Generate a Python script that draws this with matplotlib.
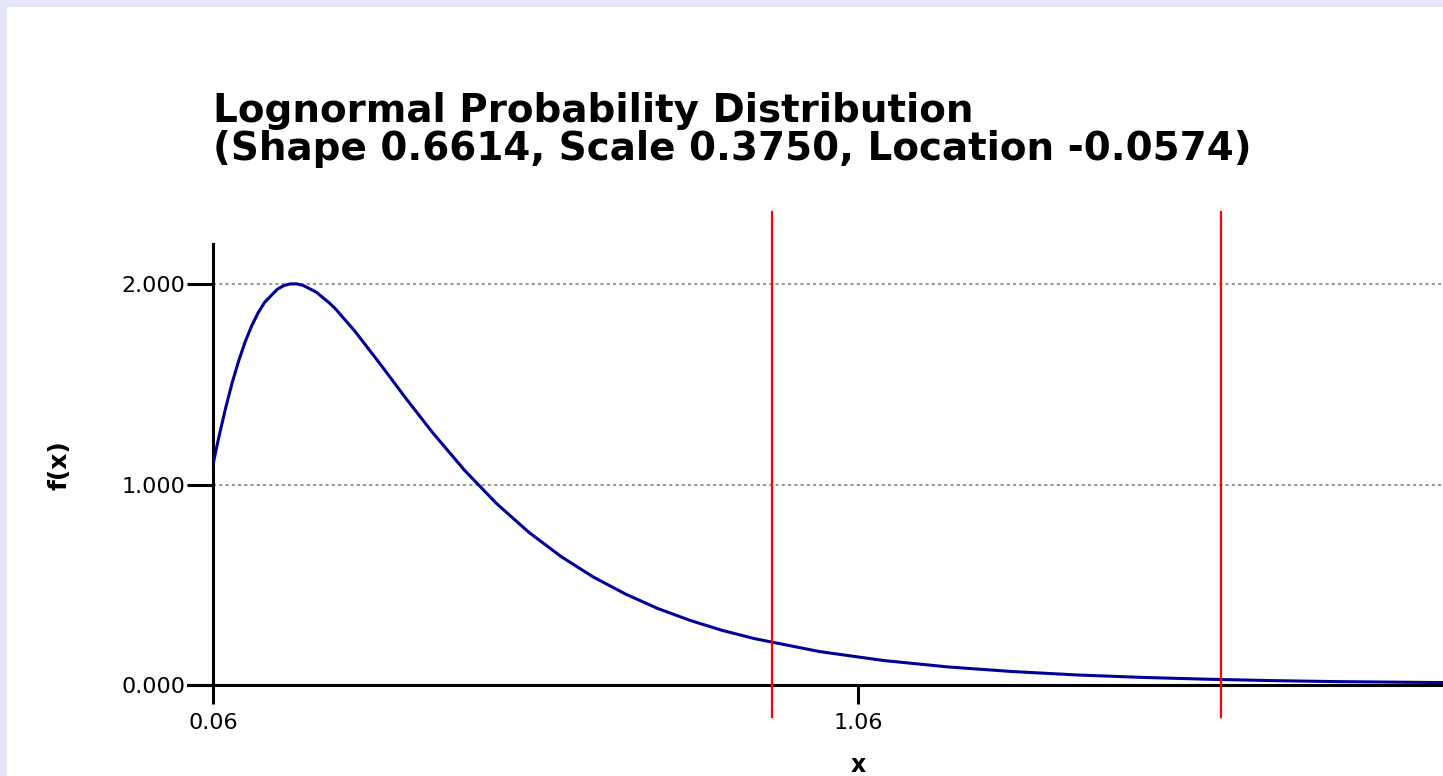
import matplotlib.pyplot as plt
from matplotlib.patches import Rectangle

# values
x_vals = [0.06, 0.065, 0.07, 0.08, 0.09, 0.10, 0.11, 0.12, 0.13, 0.14, 0.16, 0.17,
          0.18, 0.19, 0.20, 0.22, 0.24, 0.25, 0.28, 0.32, 0.36, 0.40, 0.45, 0.50,
          0.55, 0.60, 0.65, 0.70, 0.75, 0.80, 0.85, 0.90, 1.00, 1.10, 1.20, 1.30,
          1.40, 1.50, 1.60, 1.70, 1.80, 1.90, 1.97]
fx_vals = [1.100, 1.176, 1.250, 1.387, 1.511, 1.619, 1.713, 1.792, 1.857, 1.909, 1.975, 1.993,
           2.001, 2.001, 1.993, 1.960, 1.907, 1.876, 1.765, 1.598, 1.426, 1.261, 1.071, 0.904,
           0.761, 0.640, 0.538, 0.453, 0.381, 0.322, 0.272, 0.231, 0.167, 0.122, 0.090, 0.067,
           0.050, 0.038, 0.029, 0.022, 0.017, 0.014, 0.012]
red_lines = [0.927, 1.623]
x_ticks = [0.06, 1.06]
x_tick_labels = ["0.06", "1.06"]
y_ticks = [0.0, 1.0, 2.0]
y_tick_labels = ["0.000", "1.000", "2.000"]
title = "Lognormal Probability Distribution\n(Shape 0.6614, Scale 0.3750, Location -0.0574)"

W, H = 1443, 776
fig = plt.figure(figsize=(W / 100, H / 100), dpi=100, facecolor="#E6E6FA")
fig.patches.append(Rectangle((7 / W, 0), 1, 1 - 7 / H, transform=fig.transFigure,
                             facecolor="white", edgecolor="none", zorder=-5))

ax = fig.add_axes([213 / W, (H - 685) / H, 1 - 213 / W, (685 - 244) / H])
ax.set_facecolor("none")
ax.plot(x_vals, fx_vals, color="#000099", lw=2.2, zorder=3)
for xr in red_lines:
    ax.plot([xr, xr], [-0.16, 2.36], color="red", lw=1.6, clip_on=False, zorder=4)

ax.set_xlim(0.06, 1.967)
ax.set_ylim(0, 2.2)
ax.set_xticks(x_ticks)
ax.set_xticklabels(x_tick_labels)
ax.set_yticks(y_ticks)
ax.set_yticklabels(y_tick_labels)
ax.tick_params(axis="x", length=14, width=2.2, pad=6, labelsize=16)
ax.tick_params(axis="y", length=19, width=2.2, pad=1, labelsize=16)
for lab in ax.get_xticklabels() + ax.get_yticklabels():
    lab.set_family("DejaVu Sans")

ax.grid(axis="y", color="#999999", ls=(0, (1.5, 1.5)), lw=1.5)
for s in ["top", "right"]:
    ax.spines[s].set_visible(False)
for s in ["left", "bottom"]:
    ax.spines[s].set_linewidth(2.2)
ax.spines["bottom"].set_bounds(0.06 - 25 / 645, 1.967)

fig.text(213 / W, 1 - 92 / H, title, ha="left", va="top", fontsize=28,
         fontweight="bold", family="DejaVu Sans", linespacing=1.0)
fig.text(858 / W, 1 - 765 / H, "x", ha="center", va="center", fontsize=17,
         fontweight="bold", family="DejaVu Sans")
fig.text(60 / W, 1 - 465 / H, "f(x)", ha="center", va="center", fontsize=18,
         fontweight="bold", family="DejaVu Sans", rotation=90)

fig.savefig("out.png", dpi=100, facecolor=fig.get_facecolor())
